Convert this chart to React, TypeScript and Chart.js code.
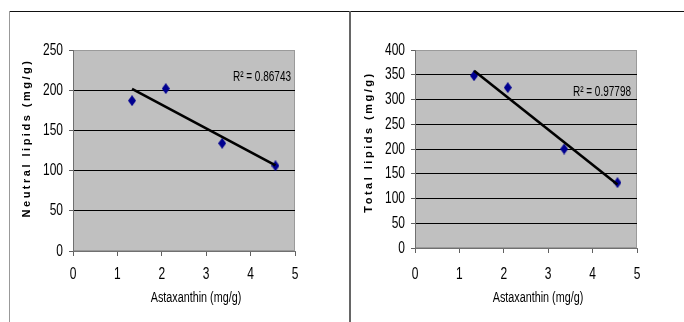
import React, { useEffect, useRef } from "react";
import { Chart, registerables } from "chart.js";

Chart.register(...registerables);

// ---- data ----
const astaxanthin = [1.33, 2.09, 3.36, 4.56];
const neutralLipids = [187, 202, 134, 106];
const totalLipids = [348, 324, 200, 132];
const xTickValues = [0, 1, 2, 3, 4, 5];
const neutralTickMax = 250;
const totalTickMax = 400;
const tickStep = 50;
const neutralR2 = "R² = 0.86743";
const totalR2 = "R² = 0.97798";
const xTitle = "Astaxanthin (mg/g)";
const neutralTitle = "Neutral lipids (mg/g)";
const totalTitle = "Total lipids (mg/g)";

function regression(xs: number[], ys: number[]) {
  const n = xs.length;
  const mx = xs.reduce((a, b) => a + b, 0) / n;
  const my = ys.reduce((a, b) => a + b, 0) / n;
  let sxy = 0;
  let sxx = 0;
  for (let i = 0; i < n; i++) {
    sxy += (xs[i] - mx) * (ys[i] - my);
    sxx += (xs[i] - mx) * (xs[i] - mx);
  }
  const slope = sxy / sxx;
  const icpt = my - slope * mx;
  const x0 = Math.min(...xs);
  const x1 = Math.max(...xs);
  return [
    { x: x0, y: icpt + slope * x0 },
    { x: x1, y: icpt + slope * x1 },
  ];
}

const SANS = "'Liberation Sans', Arial, sans-serif";
const SX = 0.8;
const SY = 1.13;

function narrowText(
  ctx: CanvasRenderingContext2D,
  text: string,
  x: number,
  y: number,
  size: number,
  align: CanvasTextAlign
) {
  ctx.save();
  ctx.translate(x, y);
  ctx.scale(SX, SY);
  ctx.font = `${size}px ${SANS}`;
  ctx.textAlign = align;
  ctx.textBaseline = "middle";
  ctx.fillStyle = "#000";
  ctx.fillText(text, 0, 0);
  ctx.restore();
}

function makeDiamond(): HTMLCanvasElement {
  const c = document.createElement("canvas");
  c.width = 8;
  c.height = 11;
  const g = c.getContext("2d")!;
  g.fillStyle = "#000090";
  g.beginPath();
  g.moveTo(4, 0);
  g.lineTo(8, 5.5);
  g.lineTo(4, 11);
  g.lineTo(0, 5.5);
  g.closePath();
  g.fill();
  return c;
}

type PanelProps = {
  ys: number[];
  yMax: number;
  yTitle: string;
  r2: string;
  bottom: number;
  yTitleCenter: number;
  r2Y: number;
  r2Right: number;
  left: number;
};

function Panel(p: PanelProps) {
  const ref = useRef<HTMLCanvasElement | null>(null);
  useEffect(() => {
    if (!ref.current) return;
    const W = 342;
    const H = 322;
    const plotLeft = 73;
    const plotRight = 295;
    const plotTop = 50;
    const overlay = {
      id: "overlay",
      beforeDraw(chart: any) {
        const { ctx, chartArea } = chart;
        const { left, top, right, bottom } = chartArea;
        ctx.save();
        ctx.fillStyle = "#c0c0c0";
        ctx.fillRect(left, top, right - left, bottom - top);
        ctx.strokeStyle = "#9a9a9a";
        ctx.lineWidth = 1;
        ctx.strokeRect(left + 0.5, top + 0.5, right - left - 1, bottom - top - 1);
        ctx.restore();
      },
      afterDraw(chart: any) {
        const { ctx, chartArea } = chart;
        const xs = chart.scales.x;
        const ysc = chart.scales.y;
        // y tick labels
        for (let v = 0; v <= p.yMax; v += tickStep) {
          narrowText(ctx, String(v), chartArea.left - 10, ysc.getPixelForValue(v), 15, "right");
        }
        // x tick labels
        for (const v of xTickValues) {
          narrowText(ctx, String(v), xs.getPixelForValue(v), 274, 15, "center");
        }
        // R² label
        narrowText(ctx, p.r2, p.r2Right, p.r2Y, 12.5, "right");
        // x title
        narrowText(ctx, xTitle, 196, 298, 13.5, "center");
        // y title
        ctx.save();
        ctx.translate(27, p.yTitleCenter);
        ctx.rotate(-Math.PI / 2);
        ctx.font = `bold 11px ${SANS}`;
        (ctx as any).letterSpacing = "2.5px";
        ctx.textAlign = "center";
        ctx.textBaseline = "middle";
        ctx.fillStyle = "#000";
        ctx.fillText(p.yTitle, 1, 0);
        ctx.restore();
      },
    };
    const trend = regression(astaxanthin, p.ys);
    const diamond = makeDiamond();
    const chart = new Chart(ref.current, {
      type: "scatter",
      data: {
        datasets: [
          {
            type: "line",
            data: trend,
            borderColor: "#000",
            borderWidth: 2.6,
            pointRadius: 0,
            fill: false,
          } as any,
          {
            data: astaxanthin.map((x, i) => ({ x, y: p.ys[i] })),
            pointStyle: diamond,
            pointRadius: 5,
            backgroundColor: "#000090",
            borderColor: "#000090",
            borderWidth: 0,
          },
        ],
      },
      options: {
        responsive: false,
        animation: false,
        devicePixelRatio: 1,
        layout: { padding: { left: 0, right: W - plotRight, top: plotTop, bottom: 0 } },
        plugins: { legend: { display: false }, tooltip: { enabled: false } },
        scales: {
          x: {
            type: "linear",
            min: 0,
            max: 5,
            afterBuildTicks: (s: any) => {
              s.ticks = xTickValues.map((v) => ({ value: v }));
            },
            afterFit: (s: any) => {
              s.height = H - p.bottom;
            },
            grid: {
              drawOnChartArea: false,
              drawTicks: true,
              tickLength: 5,
              tickColor: "#606060",
            },
            border: { color: "#707070", width: 1 },
            ticks: { display: false },
          },
          y: {
            type: "linear",
            min: 0,
            max: p.yMax,
            ticks: { stepSize: tickStep, display: false },
            afterFit: (s: any) => {
              s.width = plotLeft;
            },
            grid: {
              color: (c: any) =>
                c.tick && (c.tick.value === 0 || c.tick.value === p.yMax) ? "rgba(0,0,0,0)" : "#000",
              lineWidth: 1,
              tickLength: 4,
              tickColor: "#606060",
            },
            border: { color: "#707070", width: 1 },
          },
        },
      },
      plugins: [overlay],
    } as any);
    return () => chart.destroy();
  }, []);
  return (
    <canvas
      ref={ref}
      width={342}
      height={322}
      style={{ position: "absolute", left: p.left, top: 0, width: 342, height: 322 }}
    />
  );
}

export default function App() {
  return (
    <div
      style={{
        position: "absolute",
        left: 0,
        top: 0,
        width: 684,
        height: 322,
        background: "#fff",
        overflow: "hidden",
      }}
    >
      <Panel
        ys={neutralLipids}
        yMax={neutralTickMax}
        yTitle={neutralTitle}
        r2={neutralR2}
        bottom={251}
        yTitleCenter={139}
        r2Y={77}
        r2Right={291}
        left={0}
      />
      <Panel
        ys={totalLipids}
        yMax={totalTickMax}
        yTitle={totalTitle}
        r2={totalR2}
        bottom={248}
        yTitleCenter={143}
        r2Y={92}
        r2Right={289}
        left={342}
      />
      <div style={{ position: "absolute", left: 9, top: 11, width: 675, height: 1, background: "#111" }} />
      <div style={{ position: "absolute", left: 9, top: 11, width: 1, height: 311, background: "#999" }} />
      <div style={{ position: "absolute", left: 349, top: 11, width: 2, height: 311, background: "#666" }} />
    </div>
  );
}
